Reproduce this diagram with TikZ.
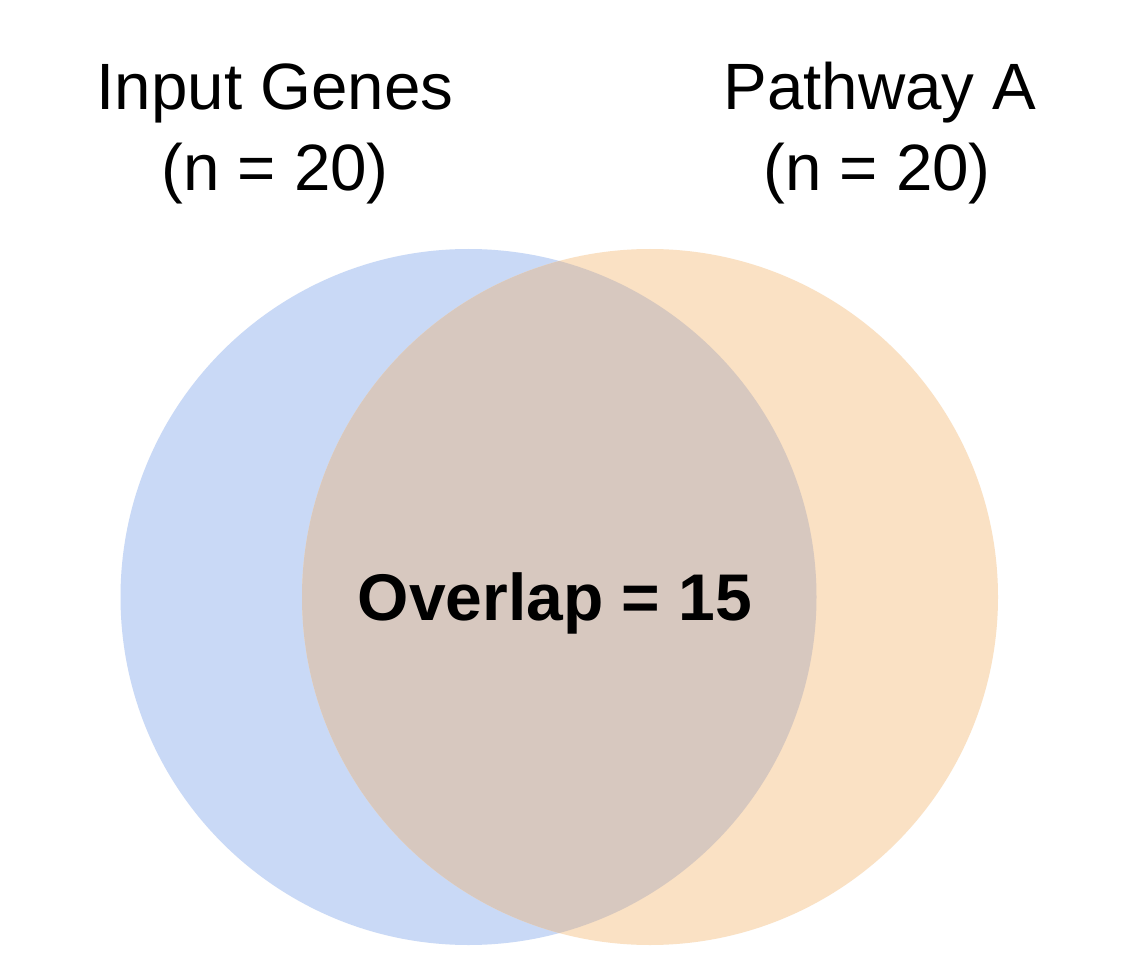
\documentclass[tikz,border=0pt]{standalone}
\usepackage{fontspec}
\setmainfont{Liberation Sans}
\definecolor{setA}{RGB}{201,217,246}
\definecolor{setB}{RGB}{250,225,196}
\definecolor{setAB}{RGB}{215,200,191}
\begin{document}
\begin{tikzpicture}[x=1pt,y=-1pt,
  lbl/.style={font=\fontsize{65.5}{68}\selectfont, anchor=base, inner sep=0pt},
  cnt/.style={font=\fontsize{66}{70}\selectfont\bfseries, anchor=base, inner sep=0pt}]
\useasboundingbox (0,0) rectangle (1130,968);
\fill[white] (0,0) rectangle (1130,968);
\coordinate (ca) at (468.5,597);
\coordinate (cb) at (650,597);
\fill[setA] (ca) circle[radius=348];
\fill[setB] (cb) circle[radius=348];
\begin{scope}
  \clip (ca) circle[radius=348];
  \fill[setAB] (cb) circle[radius=348];
\end{scope}
\node[lbl] (ta1) at (275,110) {Input Genes};
\node[lbl] (ta2) at (275,191) {(n = 20)};
\node[lbl] (tb1) at (880,110) {Pathway A};
\node[lbl] (tb2) at (877,191) {(n = 20)};
\node[cnt] (ov) at (555,620) {Overlap = 15};
\end{tikzpicture}
\end{document}
